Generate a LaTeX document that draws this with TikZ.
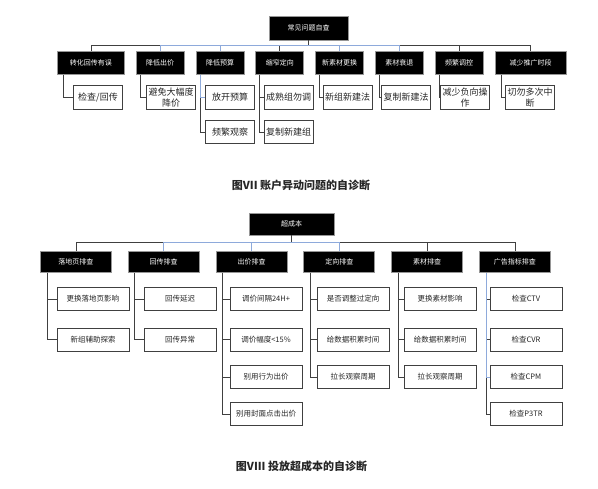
\documentclass[tikz,border=0pt]{standalone}
\usepackage{fontspec}
\setmainfont{Noto Sans CJK SC}
\usepackage{tikz}
\usetikzlibrary{positioning,calc}
\definecolor{boxline}{RGB}{64,64,64}
\definecolor{headline}{RGB}{150,150,150}
\definecolor{selblue}{RGB}{142,170,219}
\definecolor{inktext}{RGB}{38,38,38}
\tikzset{
  head/.style={draw=headline, line width=0.8pt, fill=black, text=white, align=center, inner sep=1pt, font=\fontsize{7}{8}\selectfont},
  thead/.style={head, minimum width=48pt, minimum height=23pt},
  bhead/.style={head, minimum width=71pt, minimum height=21pt},
  tleaf/.style={draw=boxline, line width=0.8pt, fill=white, text=inktext, align=center, inner sep=1pt, minimum width=49pt, minimum height=23.5pt, font=\fontsize{9}{10.5}\selectfont},
  bleaf/.style={draw=boxline, line width=0.8pt, fill=white, text=inktext, align=center, inner sep=1pt, minimum width=72pt, minimum height=23pt, font=\fontsize{7.5}{9}\selectfont},
  link/.style={draw=boxline, line width=0.8pt},
  blink/.style={draw=selblue, line width=0.8pt},
  caption/.style={text=inktext, font=\fontsize{11}{13}\selectfont\bfseries},
}

\begin{document}
\begin{tikzpicture}[x=1pt,y=-1pt]
  \useasboundingbox (0,0) rectangle (598,489);

  % top tree
  \node[head, minimum width=79pt, minimum height=24pt] (troot) at (308.5,28) {常见问题自查};
  \node[thead, minimum width=67pt, anchor=north west] (t1) at (57,51) {转化回传有误};
  \node[thead, right=11pt of t1] (t2) {降低出价};
  \node[thead, right=11pt of t2] (t3) {降低预算};
  \node[thead, right=11pt of t3] (t4) {缩窄定向};
  \node[thead, right=11pt of t4] (t5) {新素材更换};
  \node[thead, right=11pt of t5] (t6) {素材衰退};
  \node[thead, right=11pt of t6] (t7) {频繁调控};
  \node[thead, minimum width=71pt, right=11pt of t7] (t8) {减少推广时段};

  \node[tleaf] (t1a) at (98,97.5) {检查/回传};
  \node[tleaf] (t2a) at (171,97.5) {避免大幅度\\降价};
  \node[tleaf] (t3a) at (230,97.5) {放开预算};
  \node[tleaf] (t3b) at (230,132) {频繁观察};
  \node[tleaf] (t4a) at (288.5,97.5) {成熟组勿调};
  \node[tleaf] (t4b) at (288.5,132) {复制新建组};
  \node[tleaf] (t5a) at (347.5,97.5) {新组新建法};
  \node[tleaf] (t6a) at (406,97.5) {复制新建法};
  \node[tleaf] (t7a) at (465,97.5) {减少负向操\\作};
  \node[tleaf] (t8a) at (530,97.5) {切勿多次中\\断};

  \foreach \i in {1,...,8}
    \draw[link] (troot.south) -- ++(0,5) -| (t\i.north);
  \draw[blink] (t2.north) -- ++(0,-6) -| (t6.north);
  \draw[blink] (t3.north) -- ++(0,-6);
  \draw[blink] (t5.north) -- ++(0,-6);

  \draw[link] ($(t1.south west)+(6,0)$) |- (t1a.west);
  \draw[link] ($(t2.south west)+(5,0)$) |- (t2a.west);
  \draw[link] ($(t3.south west)+(5,0)$) |- (t3b.west);
  \draw[blink] ($(t3.south west)+(5,0)$) |- (t3a.west);
  \draw[link] ($(t4.south west)+(4,0)$) |- (t4a.west);
  \draw[link] ($(t4.south west)+(4,0)$) |- (t4b.west);
  \draw[link] ($(t5.south west)+(4,0)$) |- (t5a.west);
  \draw[link] ($(t6.south west)+(4,0)$) |- (t6a.west);
  \draw[link] ($(t7.south west)+(5,0)$) |- (t7a.west);
  \draw[link] ($(t8.south west)+(7,0)$) |- (t8a.west);

  \node[caption] (tcap) at (301,185) {图VII 账户异动问题的自诊断};

  % bottom tree
  \node[head, minimum width=85pt, minimum height=22pt] (broot) at (291.5,224) {超成本};
  \node[bhead, anchor=north west] (b1) at (40,251) {落地页排查};
  \node[bhead, right=16pt of b1] (b2) {回传排查};
  \node[bhead, right=16pt of b2] (b3) {出价排查};
  \node[bhead, right=16pt of b3] (b4) {定向排查};
  \node[bhead, right=16pt of b4] (b5) {素材排查};
  \node[bhead, right=16pt of b5] (b6) {广告指标排查};

  \node[bleaf] (b1a) at (93,299) {更换落地页影响};
  \node[bleaf] (b1b) at (93,339.5) {新组辅助探索};
  \node[bleaf] (b2a) at (180,299) {回传延迟};
  \node[bleaf] (b2b) at (180,339.5) {回传异常};
  \node[bleaf] (b3a) at (266,299) {调价间隔24H+};
  \node[bleaf] (b3b) at (266,339.5) {调价幅度<15\%};
  \node[bleaf] (b3c) at (266,377) {别用行为出价};
  \node[bleaf] (b3d) at (266,414) {别用封面点击出价};
  \node[bleaf] (b4a) at (353,299) {是否调整过定向};
  \node[bleaf] (b4b) at (353,339.5) {给数据积累时间};
  \node[bleaf] (b4c) at (353,377) {拉长观察周期};
  \node[bleaf] (b5a) at (440,299) {更换素材影响};
  \node[bleaf] (b5b) at (440,339.5) {给数据积累时间};
  \node[bleaf] (b5c) at (440,377) {拉长观察周期};
  \node[bleaf] (b6a) at (526,299) {检查CTV};
  \node[bleaf] (b6b) at (526,339.5) {检查CVR};
  \node[bleaf] (b6c) at (526,377) {检查CPM};
  \node[bleaf] (b6d) at (526,414) {检查P3TR};

  \foreach \i in {1,...,6}
    \draw[link] (broot.south) -- ++(0,7) -| (b\i.north);
  \draw[blink] (b2.north) -- ++(0,-9) -| (b4.north);
  \draw[blink] (b3.north) -- ++(0,-9);

  \foreach \p/\kids in {b1/{a,b},b2/{a,b},b3/{a,b,c,d},b4/{a,b,c},b5/{a,b,c},b6/{a,b,d}}
    \foreach \k in \kids
      \draw[link] ($(\p.south west)+(7,0)$) |- (\p\k.west);
  \draw[blink] ($(b6.south west)+(7,0)$) |- (b6c.west);

  \node[caption] (bcap) at (301.5,466) {图VIII 投放超成本的自诊断};
\end{tikzpicture}
\end{document}
